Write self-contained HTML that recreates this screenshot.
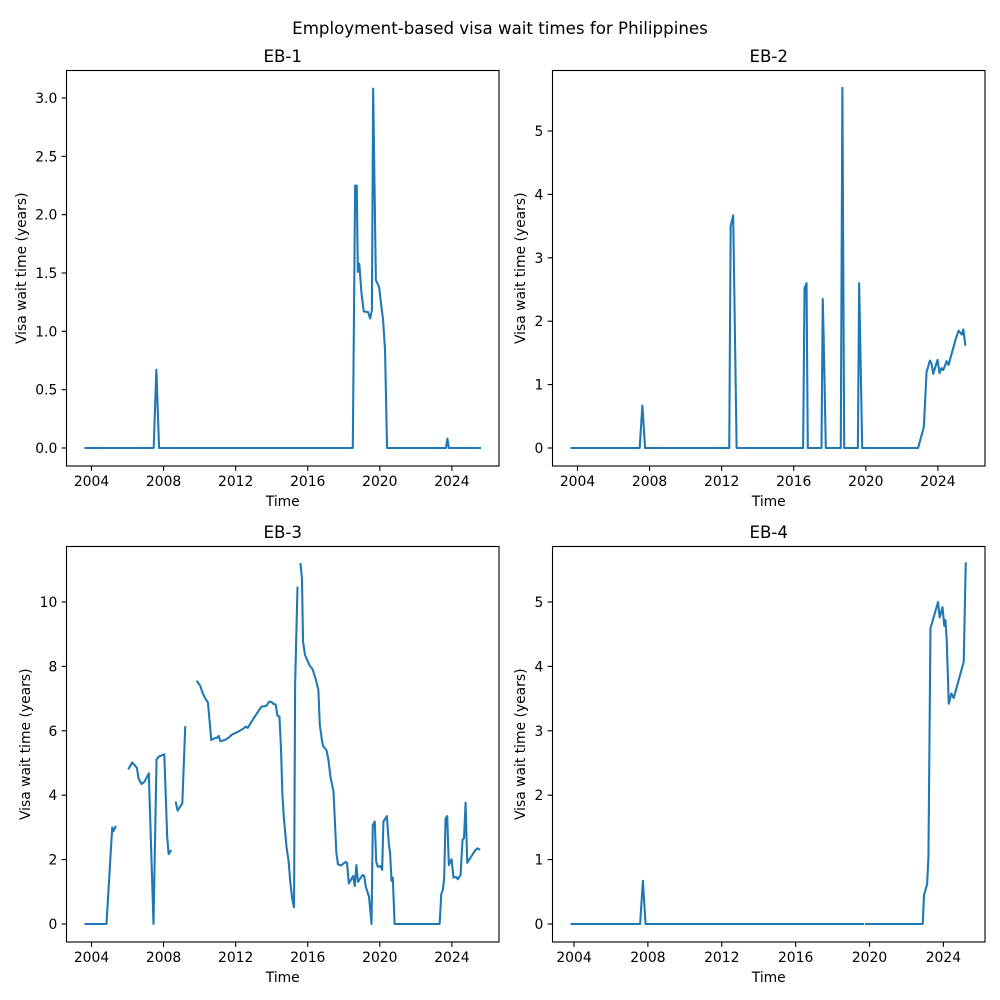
<!DOCTYPE html>
<html lang="en">
<head>
<meta charset="utf-8">
<title>Employment-based visa wait times for Philippines</title>
<style>
  html, body { margin: 0; padding: 0; background: #fff; }
  svg { display: block; font-family: "DejaVu Sans", "Liberation Sans", sans-serif; fill: #000; }
</style>
</head>
<body>
<svg id="chart" xmlns="http://www.w3.org/2000/svg" width="1000" height="1000" viewBox="0 0 1000 1000">
  <rect x="0" y="0" width="1000" height="1000" fill="#fff"></rect>
  <text x="500" y="34" text-anchor="middle" font-size="16.67">Employment-based visa wait times for Philippines</text>
</svg>
<script>
const xTickYears = [2004, 2008, 2012, 2016, 2020, 2024];

const eb1Times = [2003.67, 2007.45, 2007.6, 2007.75, 2018.5, 2018.63, 2018.72, 2018.78, 2018.82, 2018.86, 2018.98, 2019.11, 2019.35, 2019.46, 2019.56, 2019.63, 2019.78, 2019.96, 2020.09, 2020.18, 2020.29, 2020.4, 2023.67, 2023.75, 2023.83, 2025.56];
const eb1Values = [0, 0, 0.67, 0, 0, 2.25, 2.25, 1.51, 1.58, 1.58, 1.33, 1.17, 1.165, 1.11, 1.18, 3.08, 1.44, 1.38, 1.21, 1.1, 0.84, 0, 0, 0.08, 0, 0];
const eb1YTicks = [0, 0.5, 1, 1.5, 2, 2.5, 3];
const eb1YLabels = ["0.0", "0.5", "1.0", "1.5", "2.0", "2.5", "3.0"];

const eb2Times = [2003.67, 2007.45, 2007.6, 2007.75, 2012.42, 2012.5, 2012.64, 2012.83, 2016.52, 2016.6, 2016.71, 2016.78, 2017.54, 2017.61, 2017.66, 2017.78, 2018.61, 2018.7, 2018.8, 2019.56, 2019.63, 2019.8, 2022.9, 2023.22, 2023.37, 2023.56, 2023.65, 2023.74, 2023.98, 2024.09, 2024.2, 2024.29, 2024.37, 2024.48, 2024.59, 2025.0, 2025.15, 2025.33, 2025.41, 2025.52];
const eb2Values = [0, 0, 0.67, 0, 0, 3.5, 3.67, 0, 0, 2.52, 2.6, 0, 0, 2.35, 1.75, 0, 0, 5.68, 0, 0, 2.6, 0, 0, 0.33, 1.2, 1.38, 1.33, 1.17, 1.39, 1.18, 1.26, 1.23, 1.28, 1.37, 1.31, 1.73, 1.85, 1.79, 1.87, 1.63];
const eb2YTicks = [0, 1, 2, 3, 4, 5];
const eb2YLabels = ["0", "1", "2", "3", "4", "5"];

const eb3Times = [2003.67, 2004.83, 2005.15, 2005.22, 2005.33, null,
  2006.07, 2006.26, 2006.52, 2006.61, 2006.78, 2006.94, 2007.18, 2007.44, 2007.61, 2007.74, 2008.04, 2008.2, 2008.28, 2008.39, null,
  2008.68, 2008.78, 2009.04, 2009.2, null,
  2009.87, 2010.04, 2010.15, 2010.29, 2010.46, 2010.65, 2010.83, 2010.98, 2011.06, 2011.15, 2011.39, 2011.57, 2011.82, 2012.13, 2012.41, 2012.56, 2012.67, 2013.0, 2013.43, 2013.7, 2013.85, 2013.98, 2014.11, 2014.22, 2014.32, 2014.43, 2014.52, 2014.59, 2014.67, 2014.82, 2014.93, 2015.04, 2015.15, 2015.24, 2015.3, 2015.43, null,
  2015.6, 2015.68, 2015.74, 2015.85, 2016.11, 2016.26, 2016.43, 2016.59, 2016.67, 2016.8, 2016.87, 2017.04, 2017.15, 2017.26, 2017.43, 2017.59, 2017.68, 2017.85, 2018.11, 2018.18, 2018.28, 2018.52, 2018.61, 2018.7, 2018.79, 2019.04, 2019.13, 2019.22, 2019.4, 2019.54, 2019.61, 2019.72, 2019.8, 2019.89, 2020.04, 2020.13, 2020.2, 2020.39, 2020.5, 2020.57, 2020.65, 2020.72, 2020.82, 2023.32, 2023.41, 2023.5, 2023.57, 2023.65, 2023.74, 2023.83, 2023.98, 2024.09, 2024.24, 2024.33, 2024.48, 2024.59, 2024.67, 2024.76, 2024.85, 2025.28, 2025.41, 2025.52];
const eb3Values = [0, 0, 3.0, 2.88, 3.02, null,
  4.83, 5.02, 4.85, 4.52, 4.35, 4.42, 4.68, 0, 5.11, 5.2, 5.27, 2.71, 2.17, 2.27, null,
  3.77, 3.52, 3.75, 6.11, null,
  7.53, 7.39, 7.2, 7.03, 6.88, 5.71, 5.77, 5.79, 5.84, 5.68, 5.71, 5.77, 5.89, 5.97, 6.06, 6.13, 6.09, 6.39, 6.75, 6.77, 6.9, 6.9, 6.83, 6.82, 6.47, 6.44, 5.4, 4.06, 3.33, 2.4, 1.99, 1.26, 0.75, 0.52, 7.47, 10.44, null,
  11.18, 10.73, 8.77, 8.35, 8.02, 7.92, 7.63, 7.27, 6.18, 5.66, 5.51, 5.4, 5.09, 4.57, 4.11, 2.2, 1.85, 1.82, 1.93, 1.9, 1.26, 1.49, 1.18, 1.83, 1.31, 1.52, 1.5, 1.16, 0.85, 0, 3.07, 3.18, 1.93, 1.78, 1.8, 1.68, 3.18, 3.35, 2.5, 2.2, 1.34, 1.44, 0, 0, 0.93, 1.06, 1.42, 3.28, 3.35, 1.83, 2.01, 1.44, 1.46, 1.39, 1.52, 2.61, 2.66, 3.77, 1.9, 2.28, 2.35, 2.32];
const eb3YTicks = [0, 2, 4, 6, 8, 10];
const eb3YLabels = ["0", "2", "4", "6", "8", "10"];

const eb4Times = [2003.875, 2007.58, 2007.73, 2007.875, 2019.64, null,
  2019.8, 2022.88, 2022.95, 2023.12, 2023.19, 2023.3, 2023.71, 2023.8, 2023.95, 2024.05, 2024.11, 2024.18, 2024.29, 2024.43, 2024.56, 2025.1, 2025.21];
const eb4Values = [0, 0, 0.67, 0, 0, null,
  0, 0, 0.45, 0.62, 1.05, 4.59, 5.0, 4.76, 4.92, 4.63, 4.72, 4.41, 3.42, 3.58, 3.51, 4.07, 5.6];
const eb4YTicks = [0, 1, 2, 3, 4, 5];
const eb4YLabels = ["0", "1", "2", "3", "4", "5"];

const SVG_NS = "http://www.w3.org/2000/svg";
const chart = document.getElementById("chart");

function makeScale(d0, r0, d1, r1) {
  return function (d) { return r0 + (d - d0) * (r1 - r0) / (d1 - d0); };
}

function svgEl(tag, parent, attrs, text) {
  const el = document.createElementNS(SVG_NS, tag);
  for (const k in attrs) el.setAttribute(k, attrs[k]);
  if (text !== undefined) el.textContent = text;
  parent.appendChild(el);
  return el;
}

function drawPanel(cfg) {
  const g = svgEl("g", chart, {});
  
  

  const xScale = makeScale(2004, cfg.x2004, 2024, cfg.x2004 + 20 * cfg.pxPerYear);
  const yScale = makeScale(0, cfg.y0, cfg.refValue, cfg.yRef);

  const frame = svgEl("rect", g, { x: cfg.left, y: cfg.top, width: cfg.right - cfg.left, height: cfg.bottom - cfg.top, fill: "none", stroke: "#000", "stroke-width": 1.11 });
  
  

  xTickYears.forEach(function (year) {
    const x = xScale(year);
    const tick = svgEl("line", g, { x1: x, x2: x, y1: cfg.bottom, y2: cfg.bottom + 4.86, stroke: "#000", "stroke-width": 1.11 });
    
    
    const label = svgEl("text", g, { x: x, y: cfg.bottom + 20, "text-anchor": "middle", "font-size": 13.89 }, String(year));
    
    
  });

  cfg.yTicks.forEach(function (value, i) {
    const y = yScale(value);
    const tick = svgEl("line", g, { x1: cfg.left - 4.86, x2: cfg.left, y1: y, y2: y, stroke: "#000", "stroke-width": 1.11 });
    
    
    const label = svgEl("text", g, { x: cfg.left - 9.2, y: y + 5, "text-anchor": "end", "font-size": 13.89 }, cfg.yLabels[i]);
    
    
  });

  let d = "";
  let pen = false;
  cfg.times.forEach(function (t, i) {
    const v = cfg.values[i];
    if (t === null || v === null) { pen = false; return; }
    d += (pen ? "L" : "M") + xScale(t).toFixed(2) + " " + yScale(v).toFixed(2);
    pen = true;
  });
  const line = svgEl("path", g, { d: d, fill: "none", stroke: "#1f77b4", "stroke-width": 2.08, "stroke-linejoin": "round", "stroke-linecap": "square" });
  
  

  const midX = (cfg.left + cfg.right) / 2;
  const midY = (cfg.top + cfg.bottom) / 2;
  const title = svgEl("text", g, { x: midX, y: cfg.top - 8.5, "text-anchor": "middle", "font-size": 16.67 }, cfg.title);
  
  
  const xTitle = svgEl("text", g, { x: midX, y: cfg.bottom + 40, "text-anchor": "middle", "font-size": 13.89 }, "Time");
  
  
  const yTitle = svgEl("text", g, { x: 0, y: 0, transform: "translate(" + cfg.yTitleX + " " + midY + ") rotate(-90)", "text-anchor": "middle", "font-size": 13.89 }, "Visa wait time (years)");
  
  
}

drawPanel({ key: "eb-1", title: "EB-1", left: 66.5, right: 499, top: 70.5, bottom: 466, x2004: 91.5, pxPerYear: 18.02, y0: 448, refValue: 3, yRef: 98, yTitleX: 26, times: eb1Times, values: eb1Values, yTicks: eb1YTicks, yLabels: eb1YLabels });
drawPanel({ key: "eb-2", title: "EB-2", left: 552.5, right: 985, top: 70.5, bottom: 466, x2004: 577.5, pxPerYear: 18.02, y0: 448, refValue: 5, yRef: 131, yTitleX: 525, times: eb2Times, values: eb2Values, yTicks: eb2YTicks, yLabels: eb2YLabels });
drawPanel({ key: "eb-3", title: "EB-3", left: 66.5, right: 499, top: 546.5, bottom: 942, x2004: 91.5, pxPerYear: 18.02, y0: 924, refValue: 10, yRef: 602, yTitleX: 30, times: eb3Times, values: eb3Values, yTicks: eb3YTicks, yLabels: eb3YLabels });
drawPanel({ key: "eb-4", title: "EB-4", left: 552.5, right: 985, top: 546.5, bottom: 942, x2004: 574, pxPerYear: 18.47, y0: 924, refValue: 5, yRef: 602, yTitleX: 525, times: eb4Times, values: eb4Values, yTicks: eb4YTicks, yLabels: eb4YLabels });
</script>
</body>
</html>
